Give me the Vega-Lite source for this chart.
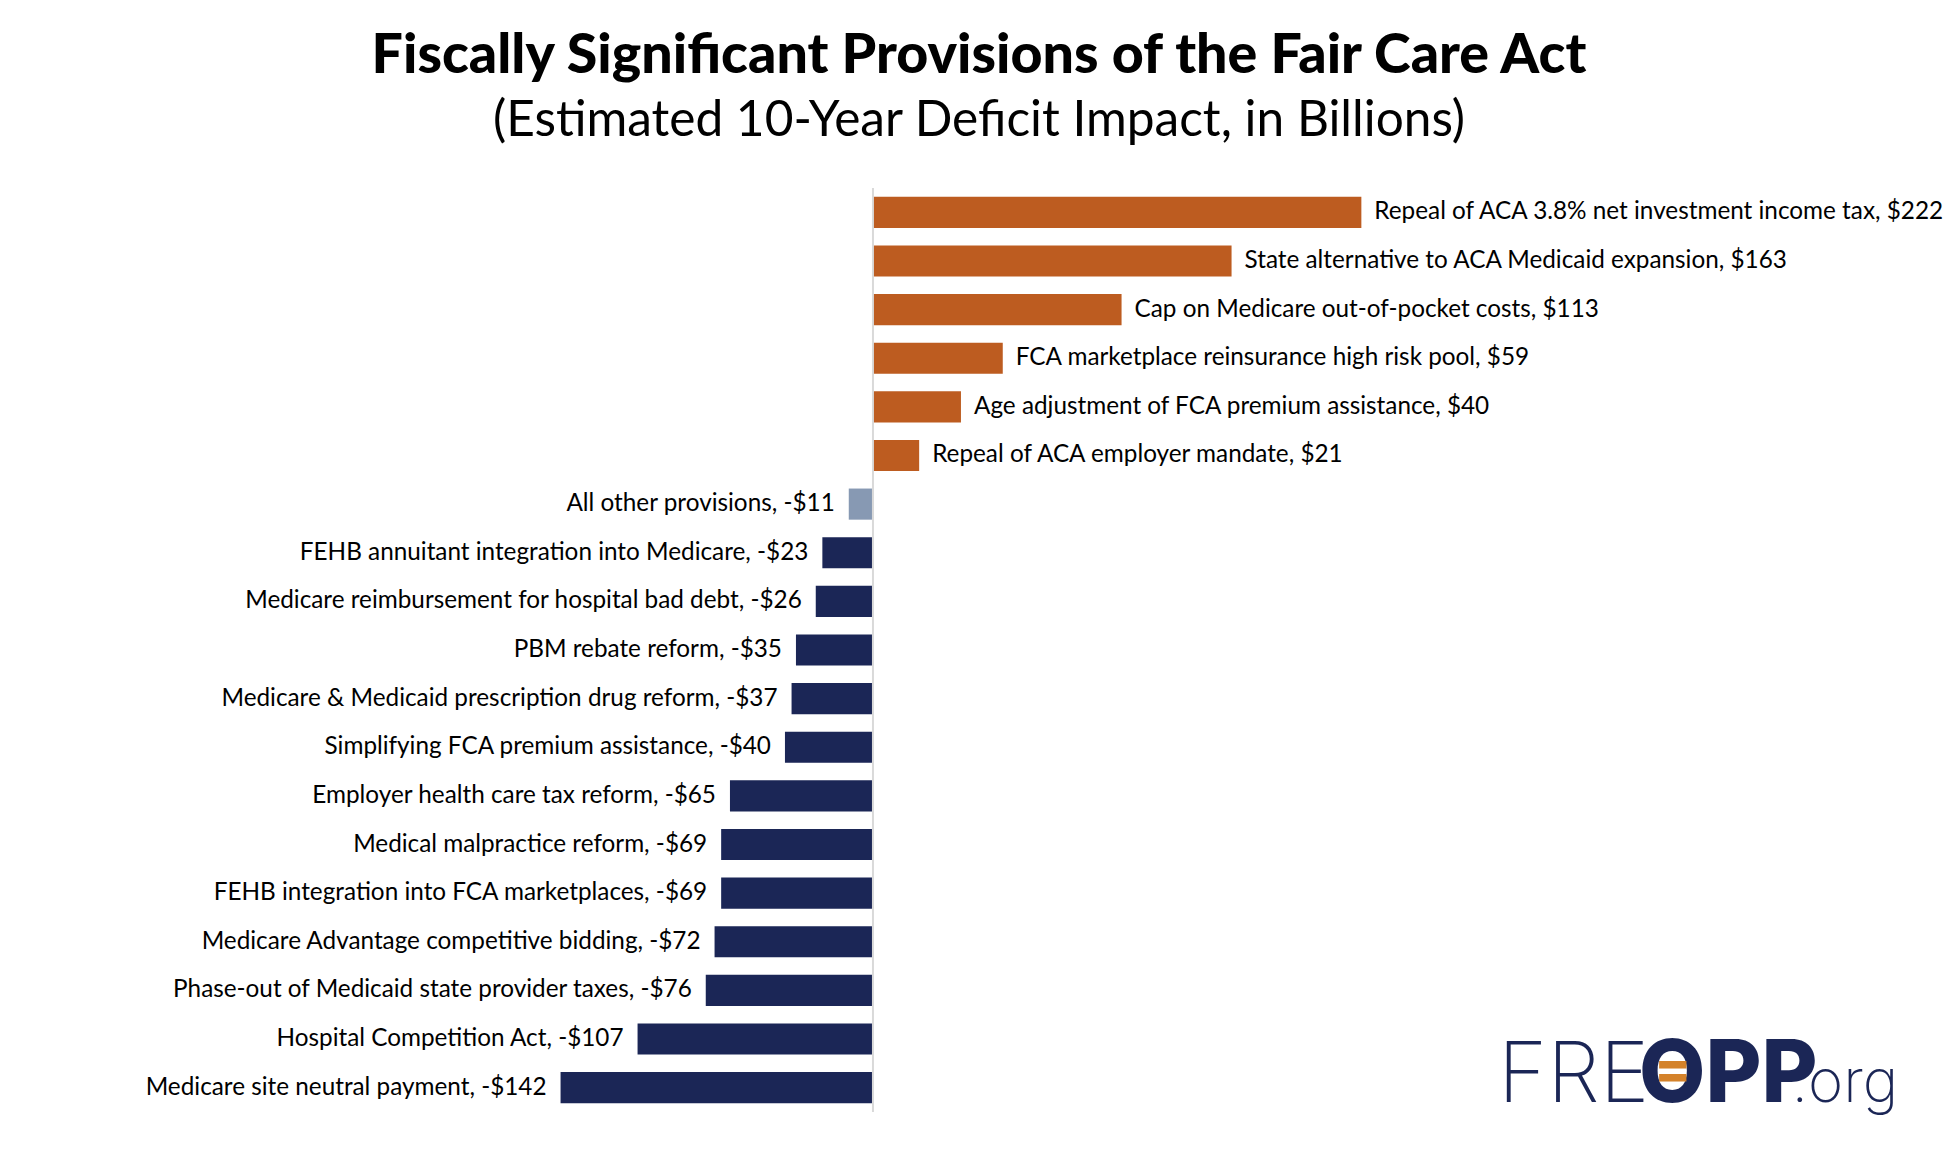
{
  "$schema": "https://vega.github.io/schema/vega-lite/v6.json",
  "width": 1958,
  "height": 924,
  "autosize": {"type": "none"},
  "padding": {"left": 0, "right": 0, "top": 188, "bottom": 38},
  "background": "white",
  "title": {
    "text": "Fiscally Significant Provisions of the Fair Care Act",
    "subtitle": "(Estimated 10-Year Deficit Impact, in Billions)",
    "anchor": "middle",
    "frame": "group",
    "font": "Lato",
    "fontSize": 55.5,
    "fontWeight": 900,
    "color": "#000000",
    "subtitleFont": "Lato",
    "subtitleFontSize": 49.6,
    "subtitleColor": "#000000",
    "subtitlePadding": 13,
    "offset": 41
  },
  "data": {
    "values": [
      {"name": "Repeal of ACA 3.8% net investment income tax, $222", "value": 222, "group": "increase"},
      {"name": "State alternative to ACA Medicaid expansion, $163", "value": 163, "group": "increase"},
      {"name": "Cap on Medicare out-of-pocket costs, $113", "value": 113, "group": "increase"},
      {"name": "FCA marketplace reinsurance high risk pool, $59", "value": 59, "group": "increase"},
      {"name": "Age adjustment of FCA premium assistance, $40", "value": 40, "group": "increase"},
      {"name": "Repeal of ACA employer mandate, $21", "value": 21, "group": "increase"},
      {"name": "All other provisions, -$11", "value": -11, "group": "other"},
      {"name": "FEHB annuitant integration into Medicare, -$23", "value": -23, "group": "decrease"},
      {"name": "Medicare reimbursement for hospital bad debt, -$26", "value": -26, "group": "decrease"},
      {"name": "PBM rebate reform, -$35", "value": -35, "group": "decrease"},
      {"name": "Medicare & Medicaid prescription drug reform, -$37", "value": -37, "group": "decrease"},
      {"name": "Simplifying FCA premium assistance, -$40", "value": -40, "group": "decrease"},
      {"name": "Employer health care tax reform, -$65", "value": -65, "group": "decrease"},
      {"name": "Medical malpractice reform, -$69", "value": -69, "group": "decrease"},
      {"name": "FEHB integration into FCA marketplaces, -$69", "value": -69, "group": "decrease"},
      {"name": "Medicare Advantage competitive bidding, -$72", "value": -72, "group": "decrease"},
      {"name": "Phase-out of Medicaid state provider taxes, -$76", "value": -76, "group": "decrease"},
      {"name": "Hospital Competition Act, -$107", "value": -107, "group": "decrease"},
      {"name": "Medicare site neutral payment, -$142", "value": -142, "group": "decrease"}
    ]
  },
  "encoding": {
    "y": {
      "field": "name",
      "type": "nominal",
      "sort": null,
      "axis": null,
      "scale": {"paddingInner": 0.36, "paddingOuter": 0.18}
    }
  },
  "layer": [
    {
      "mark": {"type": "bar"},
      "encoding": {
        "x": {
          "field": "value",
          "type": "quantitative",
          "axis": null,
          "scale": {"domain": [-396.8, 493.2], "nice": false, "zero": false}
        },
        "color": {
          "field": "group",
          "type": "nominal",
          "legend": null,
          "scale": {
            "domain": ["increase", "other", "decrease"],
            "range": ["#BD5C20", "#8799B3", "#1B2656"]
          }
        }
      }
    },
    {
      "transform": [{"filter": "datum.value > 0"}],
      "mark": {"type": "text", "align": "left", "baseline": "middle", "dx": 13, "font": "Lato", "fontSize": 24.3, "color": "#000000"},
      "encoding": {
        "x": {"field": "value", "type": "quantitative"},
        "text": {"field": "name"}
      }
    },
    {
      "transform": [{"filter": "datum.value < 0"}],
      "mark": {"type": "text", "align": "right", "baseline": "middle", "dx": -14, "font": "Lato", "fontSize": 24.3, "color": "#000000"},
      "encoding": {
        "x": {"field": "value", "type": "quantitative"},
        "text": {"field": "name"}
      }
    },
    {
      "data": {"values": [{}]},
      "mark": {"type": "rule", "color": "#D9D9D9", "strokeWidth": 2},
      "encoding": {"x": {"datum": 0}, "y": null}
    },
    {
      "data": {"values": [{}]},
      "mark": {"type": "text", "align": "left", "baseline": "alphabetic", "dy": 14, "font": "Inter", "fontWeight": 200, "fontSize": 84, "color": "#1B2656"},
      "encoding": {
        "x": {"datum": 284.1},
        "y": {"datum": "Medicare site neutral payment, -$142"},
        "text": {"value": "FRE"}
      }
    },
    {
      "data": {"values": [{}]},
      "mark": {"type": "text", "align": "left", "baseline": "alphabetic", "dy": 14, "font": "Inter", "fontWeight": 800, "fontSize": 86, "color": "#1B2656"},
      "encoding": {
        "x": {"datum": 348.2},
        "y": {"datum": "Medicare site neutral payment, -$142"},
        "text": {"value": "OPP"}
      }
    },
    {
      "data": {"values": [{}]},
      "mark": {"type": "text", "align": "center", "baseline": "middle", "dy": -17, "font": "Inter", "fontWeight": 800, "fontSize": 54, "color": "#D4822A"},
      "encoding": {
        "x": {"datum": 363.5},
        "y": {"datum": "Medicare site neutral payment, -$142"},
        "text": {"value": "="}
      }
    },
    {
      "data": {"values": [{}]},
      "mark": {"type": "text", "align": "left", "baseline": "alphabetic", "dy": 14, "font": "Inter", "fontWeight": 200, "fontSize": 60, "color": "#1B2656"},
      "encoding": {
        "x": {"datum": 417.5},
        "y": {"datum": "Medicare site neutral payment, -$142"},
        "text": {"value": ".org"}
      }
    }
  ],
  "config": {"view": {"stroke": null}}
}
